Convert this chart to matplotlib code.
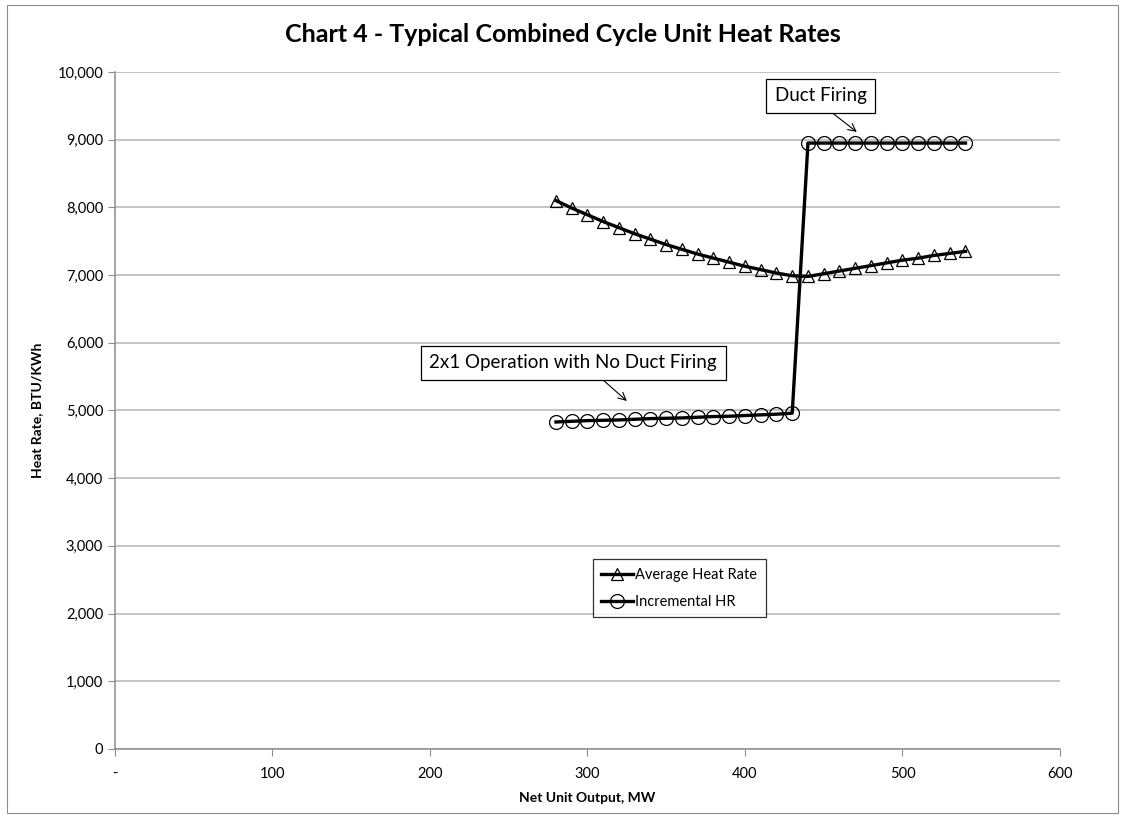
import matplotlib.pyplot as plt
from matplotlib.patches import Rectangle
from matplotlib.ticker import FuncFormatter

plt.rcParams['font.family'] = ['Lato', 'DejaVu Sans']

# net unit output, MW
output_mw = [280, 290, 300, 310, 320, 330, 340, 350, 360, 370, 380, 390, 400, 410,
             420, 430, 440, 450, 460, 470, 480, 490, 500, 510, 520, 530, 540]

# heat rates, BTU/KWh
avg_hr = [8100, 7990, 7890, 7790, 7700, 7610, 7530, 7450, 7380, 7310, 7250, 7190, 7130, 7080,
          7030, 6990, 6980, 7020, 7060, 7100, 7140, 7180, 7220, 7250, 7290, 7320, 7350]
incr_hr = [4830, 4840, 4850, 4855, 4860, 4870, 4880, 4885, 4890, 4900, 4910, 4915, 4925, 4935,
           4945, 4960, 8950, 8950, 8950, 8950, 8950, 8950, 8950, 8950, 8950, 8950, 8950]

x_ticks = [0, 100, 200, 300, 400, 500, 600]
y_ticks = list(range(0, 10001, 1000))

fig = plt.figure(figsize=(11.25, 8.18), dpi=100)
ax = fig.add_axes([0.1022, 0.0844, 0.84, 0.8276])

# frame round the whole chart
fig.patches.append(Rectangle((0.006, 0.006), 0.988, 0.988, transform=fig.transFigure,
                             fill=False, edgecolor='#8c8c8c', linewidth=0.8))

ax.plot(output_mw, avg_hr, color='black', linewidth=2.4, marker='^', markersize=8,
        markerfacecolor='none', markeredgecolor='black', markeredgewidth=0.9,
        label='Average Heat Rate', zorder=3)
ax.plot(output_mw, incr_hr, color='black', linewidth=2.4, marker='o', markersize=10,
        markerfacecolor='none', markeredgecolor='black', markeredgewidth=0.9,
        label='Incremental HR', zorder=3)

ax.set_xlim(0, 600)
ax.set_ylim(0, 10000)
ax.set_xticks(x_ticks)
ax.set_yticks(y_ticks)
ax.xaxis.set_major_formatter(FuncFormatter(lambda v, p: '-' if v == 0 else f'{v:,.0f}'))
ax.yaxis.set_major_formatter(FuncFormatter(lambda v, p: f'{v:,.0f}'))
ax.tick_params(axis='both', direction='out', length=5, color='#8c8c8c', labelsize=10.5)
ax.tick_params(axis='x', pad=8)
ax.grid(axis='y', color='#b3b3b3', linewidth=1.1)
ax.set_axisbelow(True)
for side in ['top', 'right']:
    ax.spines[side].set_visible(False)
for side in ['left', 'bottom']:
    ax.spines[side].set_color('#8c8c8c')
    ax.spines[side].set_linewidth(1.1)

ax.set_xlabel('Net Unit Output, MW', fontsize=10, fontweight='bold', labelpad=8)
ax.set_ylabel('Heat Rate, BTU/KWh', fontsize=10, fontweight='bold', labelpad=10)
fig.suptitle('Chart 4 - Typical Combined Cycle Unit Heat Rates', fontsize=18,
             fontweight='bold', x=0.5, y=0.972)

# callout boxes with arrows leaving from the bottom edge
box = dict(boxstyle='square,pad=0.45', facecolor='white', edgecolor='black', linewidth=0.9)
ax.annotate('Duct Firing', xy=(471, 9114), xytext=(448, 9646), fontsize=13.5,
            ha='center', va='center', bbox=box,
            arrowprops=dict(arrowstyle='->', color='black', linewidth=0.8,
                            shrinkA=0, shrinkB=0, relpos=(0.51, 0)))
ax.annotate('2x1 Operation with No Duct Firing', xy=(325, 5140), xytext=(291, 5702),
            fontsize=13.5, ha='center', va='center', bbox=box,
            arrowprops=dict(arrowstyle='->', color='black', linewidth=0.8,
                            shrinkA=0, shrinkB=0, relpos=(0.57, 0)))

leg = ax.legend(loc='center', bbox_to_anchor=(0.597, 0.2375), fontsize=10.5,
                frameon=True, fancybox=False, handlelength=2.2, handletextpad=0.1,
                borderpad=0.6, labelspacing=0.9)
leg.get_frame().set_edgecolor('black')
leg.get_frame().set_linewidth(0.9)

fig.savefig('out.png', dpi=100)
